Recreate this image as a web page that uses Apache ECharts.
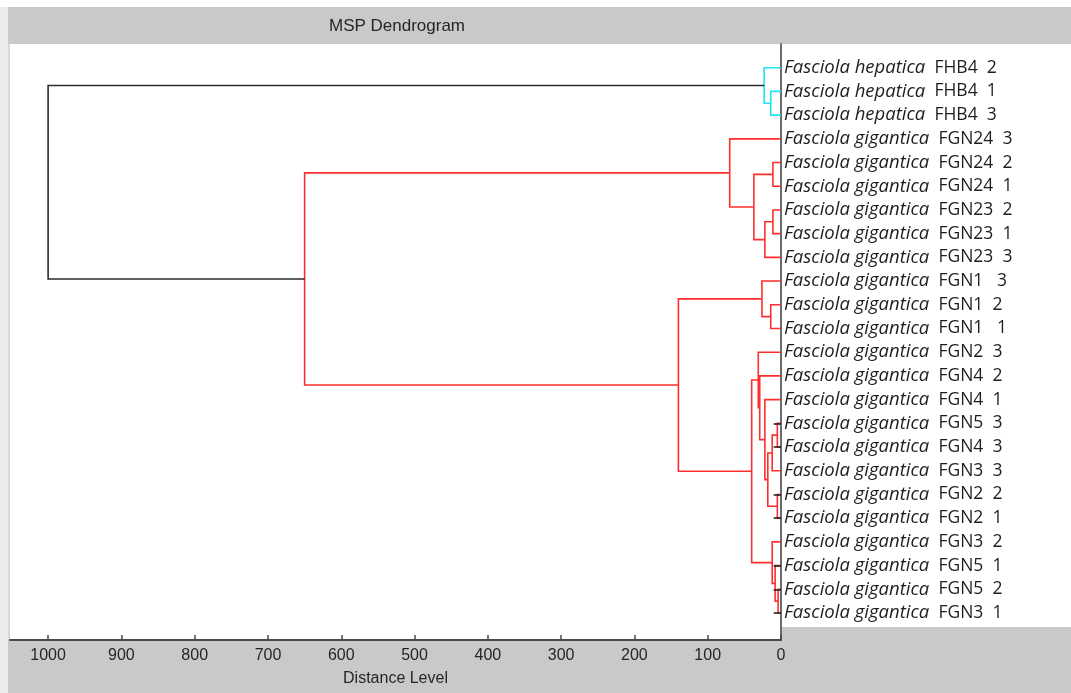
<!DOCTYPE html>
<html>
<head>
<meta charset="utf-8">
<script src="https://cdn.jsdelivr.net/npm/echarts@6/dist/echarts.min.js"></script>
<style>
  html, body { margin: 0; padding: 0; }
  #main { width: 1071px; height: 693px; }
</style>
</head>
<body>
<div id="main"></div>
<script>
// leaves, top to bottom
var leafSpecies = [
  'Fasciola hepatica', 'Fasciola hepatica', 'Fasciola hepatica',
  'Fasciola gigantica', 'Fasciola gigantica', 'Fasciola gigantica',
  'Fasciola gigantica', 'Fasciola gigantica', 'Fasciola gigantica',
  'Fasciola gigantica', 'Fasciola gigantica', 'Fasciola gigantica',
  'Fasciola gigantica', 'Fasciola gigantica', 'Fasciola gigantica',
  'Fasciola gigantica', 'Fasciola gigantica', 'Fasciola gigantica',
  'Fasciola gigantica', 'Fasciola gigantica', 'Fasciola gigantica',
  'Fasciola gigantica', 'Fasciola gigantica', 'Fasciola gigantica'
];
var leafStrain = [
  'FHB4  2', 'FHB4  1', 'FHB4  3',
  'FGN24  3', 'FGN24  2', 'FGN24  1',
  'FGN23  2', 'FGN23  1', 'FGN23  3',
  'FGN1   3', 'FGN1  2', 'FGN1   1',
  'FGN2  3', 'FGN4  2', 'FGN4  1',
  'FGN5  3', 'FGN4  3', 'FGN3  3',
  'FGN2  2', 'FGN2  1', 'FGN3  2',
  'FGN5  1', 'FGN5  2', 'FGN3  1'
];

// linkage: [node a, node b, distance]; node >= 24 is the cluster made by merge (node - 24)
var merges = [
  [1, 2, 14],     // 24
  [0, 24, 23],    // 25
  [4, 5, 11],     // 26
  [6, 7, 11],     // 27
  [27, 8, 22],    // 28
  [26, 28, 37],   // 29
  [3, 29, 70],    // 30
  [10, 11, 14],   // 31
  [9, 31, 26],    // 32
  [15, 16, 5],    // 33
  [33, 17, 12],   // 34
  [18, 19, 5],    // 35
  [34, 35, 18],   // 36
  [14, 36, 22],   // 37
  [13, 37, 29],   // 38
  [12, 38, 31],   // 39
  [22, 23, 4],    // 40
  [21, 40, 8],    // 41
  [20, 41, 12],   // 42
  [39, 42, 40],   // 43
  [32, 43, 140],  // 44
  [30, 44, 650],  // 45
  [25, 45, 1000]  // 46
];
var mergeGroup = ['hep', 'hep', 'gig', 'gig', 'gig', 'gig', 'gig', 'gig', 'gig', 'gig', 'gig',
  'gig', 'gig', 'gig', 'gig', 'gig', 'gig', 'gig', 'gig', 'gig', 'gig', 'gig', 'root'];
// leaves drawn with a short black tick
var tickLeaves = [15, 16, 18, 19, 21, 22, 23];
var tickLength = 10;

var groupColor = { hep: '#1ee3f0', gig: '#ff2e2e', root: '#2b2b2b' };

// node positions (y = leaf index, x = distance)
var nodeY = [], nodeH = [];
for (var i = 0; i < leafSpecies.length; i++) { nodeY.push(i); nodeH.push(0); }
var linkData = [];
merges.forEach(function (m, k) {
  var a = m[0], b = m[1], h = m[2];
  linkData.push({
    coords: [[nodeH[a], nodeY[a]], [h, nodeY[a]], [h, nodeY[b]], [nodeH[b], nodeY[b]]],
    lineStyle: { color: groupColor[mergeGroup[k]] }
  });
  nodeY.push((nodeY[a] + nodeY[b]) / 2);
  nodeH.push(h);
});
var tickData = tickLeaves.map(function (l) {
  return { coords: [[0, l], [tickLength, l]] };
});

var chart = echarts.init(document.getElementById('main'));
var option = {
  backgroundColor: '#c9c9c9',
  animation: false,
  title: {
    text: 'MSP Dendrogram',
    left: 392, top: 13, textAlign: 'center',
    textStyle: { fontFamily: 'Liberation Sans', fontSize: 17, fontWeight: 'normal', color: '#262626' }
  },
  graphic: [
    { type: 'rect', shape: { x: 0, y: 0, width: 1071, height: 7 }, style: { fill: '#ffffff' }, z: -1 },
    { type: 'rect', shape: { x: 0, y: 7, width: 8, height: 686 }, style: { fill: '#ebebeb' }, z: -1 },
    { type: 'rect', shape: { x: 8, y: 44, width: 2, height: 596 }, style: { fill: '#d9d9d9' }, z: -1 },
    { type: 'rect', shape: { x: 10, y: 44, width: 771, height: 596 }, style: { fill: '#ffffff' }, z: -1 },
    { type: 'rect', shape: { x: 781, y: 44, width: 290, height: 583 }, style: { fill: '#ffffff' }, z: -1 }
  ],
  grid: {
    left: 10, right: 290, top: 44, bottom: 53
  },
  xAxis: {
    type: 'value', inverse: true, min: 0, max: 1052, interval: 100,
    name: 'Distance Level', nameLocation: 'middle', nameGap: 31,
    nameTextStyle: { fontFamily: 'Liberation Sans', fontSize: 16, color: '#262626' },
    splitLine: { show: false },
    axisLine: { onZero: false, lineStyle: { color: '#4a4a4a', width: 2 } },
    axisTick: { inside: true, length: 5, lineStyle: { color: '#4a4a4a', width: 1.5 } },
    axisLabel: {
      showMaxLabel: false, margin: 8,
      fontFamily: 'Liberation Sans', fontSize: 16, color: '#262626',
      formatter: function (v) { return String(v); }
    }
  },
  yAxis: {
    type: 'value', inverse: true, min: -1, max: 24.14, interval: 1,
    position: 'right',
    splitLine: { show: false },
    axisLine: { show: true, onZero: false, lineStyle: { color: '#6b6b6b', width: 2 } },
    axisTick: { show: false },
    axisLabel: {
      margin: 3,
      fontFamily: 'Open Sans', fontSize: 17.5, color: '#1e1e1e',
      formatter: function (v) {
        var i = Math.round(v);
        if (Math.abs(v - i) > 1e-6 || i < 0 || i >= leafSpecies.length) return '';
        return '{sp|' + leafSpecies[i] + '}  ' + leafStrain[i];
      },
      rich: {
        sp: { fontFamily: 'Open Sans', fontStyle: 'italic', fontSize: 18.5, color: '#1e1e1e' }
      }
    }
  },
  series: [
    {
      type: 'lines', coordinateSystem: 'cartesian2d', polyline: true,
      lineStyle: { width: 1.6, opacity: 1 },
      data: linkData, z: 2
    },
    {
      type: 'lines', coordinateSystem: 'cartesian2d',
      lineStyle: { width: 1.5, color: '#1a1a1a', opacity: 1 },
      data: tickData, z: 3
    }
  ]
};
chart.setOption(option);
</script>
</body>
</html>
